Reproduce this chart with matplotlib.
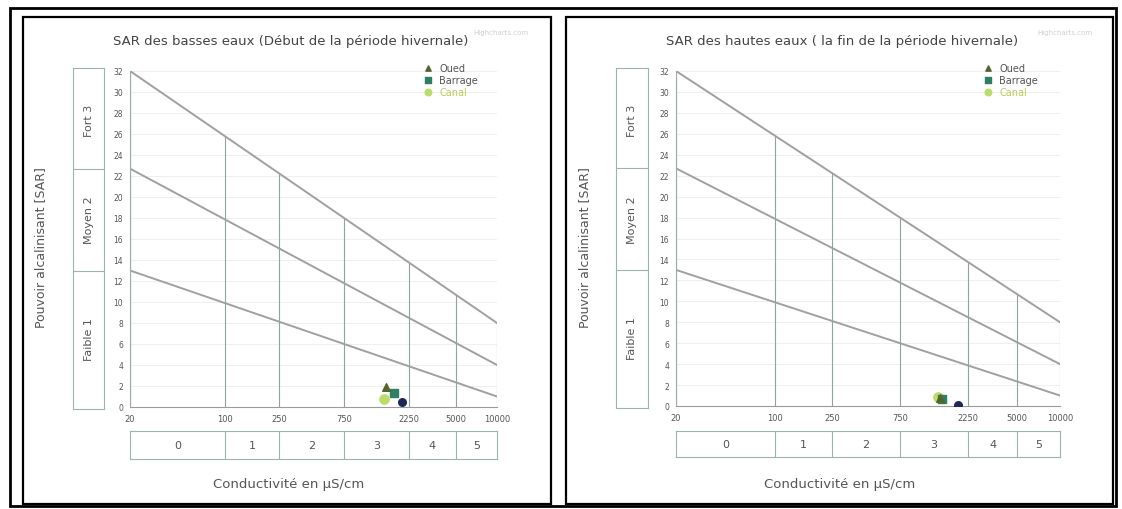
import numpy as np
import matplotlib
matplotlib.use('Agg')
import matplotlib.pyplot as plt
from matplotlib.patches import Rectangle

# axes values
ec_ticks = [20, 100, 250, 750, 2250, 5000, 10000]
ec_labels = ['20', '100', '250', '750', '2250', '5000', '10000']
sar_ticks = list(range(0, 33, 2))
cond_classes = ['0', '1', '2', '3', '4', '5']
sar_classes = ['Faible 1', 'Moyen 2', 'Fort 3']

# boundary lines (SAR at EC = 20 and EC = 10000)
line_ec = [20, 10000]
line_faible = [13.0, 1.0]
line_moyen = [22.7, 4.0]
line_fort = [32.0, 8.0]

# points, basses eaux
p1_oued_ec = [1530]
p1_oued_sar = [1.9]
p1_barrage_ec = [1750]
p1_barrage_sar = [1.3]
p1_canal_ec = [1470]
p1_canal_sar = [0.8]
p1_autre_ec = [2000]
p1_autre_sar = [0.45]

# points, hautes eaux
p2_oued_ec = [1440]
p2_oued_sar = [0.8]
p2_barrage_ec = [1470]
p2_barrage_sar = [0.65]
p2_canal_ec = [1380]
p2_canal_sar = [0.85]
p2_autre_ec = [1910]
p2_autre_sar = [0.12]

titles = ['SAR des basses eaux (Début de la période hivernale)',
          'SAR des hautes eaux ( la fin de la période hivernale)']

W, H = 1122, 510
fig = plt.figure(figsize=(W / 100, H / 100), dpi=100)


def frac(x0, y0, x1, y1):
    # pixel box (top-left origin) -> figure fraction [l, b, w, h]
    return [x0 / W, (H - y1) / H, (x1 - x0) / W, (y1 - y0) / H]


def rect(x0, y0, x1, y1, lw):
    l, b, w, h = frac(x0, y0, x1, y1)
    fig.add_artist(Rectangle((l, b), w, h, transform=fig.transFigure,
                             fill=False, ec='black', lw=lw))


rect(10, 9, 1116, 507, 2.0)
rect(23, 18, 551, 505, 1.6)
rect(566, 18, 1113, 505, 1.6)

col_oued = '#55652c'
col_barrage = '#2f7f62'
col_canal = '#bcdc6a'
col_autre = '#1f2658'
box_col = '#9db3b3'
txt_col = '#555555'

panels = [
    dict(plot=(130, 72, 497, 408), sarbox=(73, 104), condbox=(432, 460),
         title=(291, 42), mark=(528, 33), ylab=41, xlab=(289, 485), leg=(413, 59),
         pts=(p1_oued_ec, p1_oued_sar, p1_barrage_ec, p1_barrage_sar,
              p1_canal_ec, p1_canal_sar, p1_autre_ec, p1_autre_sar)),
    dict(plot=(676, 72, 1060, 407), sarbox=(616, 648), condbox=(432, 458),
         title=(842, 42), mark=(1092, 33), ylab=585, xlab=(840, 485), leg=(973, 59),
         pts=(p2_oued_ec, p2_oued_sar, p2_barrage_ec, p2_barrage_sar,
              p2_canal_ec, p2_canal_sar, p2_autre_ec, p2_autre_sar)),
]

for i, p in enumerate(panels):
    x0, y0, x1, y1 = p['plot']
    ax = fig.add_axes(frac(x0, y0, x1, y1))
    ax.set_xscale('log')
    ax.set_xlim(20, 10000)
    ax.set_ylim(0, 32)
    ax.minorticks_off()
    for s in ['top', 'right']:
        ax.spines[s].set_visible(False)
    ax.spines['left'].set_color('#9aaeb0')
    ax.spines['bottom'].set_color('#9a9a9a')
    ax.set_xticks(ec_ticks)
    ax.set_xticklabels(ec_labels)
    ax.set_yticks(sar_ticks)
    ax.tick_params(axis='both', length=0, colors=txt_col)
    ax.tick_params(axis='x', pad=5, labelsize=6)
    ax.tick_params(axis='y', pad=5, labelsize=5.5)
    ax.grid(axis='y', color='#ececec', lw=0.6)
    ax.set_axisbelow(True)

    # vertical class lines up to the upper boundary line
    top_at = np.interp(np.log10(ec_ticks), np.log10(line_ec), line_fort)
    ax.vlines(ec_ticks, 0, top_at, color='#8fa3a3', lw=0.8)
    for ys in [line_faible, line_moyen, line_fort]:
        ax.plot(line_ec, ys, color='#a0a0a0', lw=1.4)

    oe, osr, be, bs, ce, cs, ae, asr = p['pts']
    ax.scatter(ce, cs, marker='o', s=45, color=col_canal, label='Canal', zorder=3)
    ax.scatter(be, bs, marker='s', s=28, color=col_barrage, label='Barrage', zorder=4)
    ax.scatter(oe, osr, marker='^', s=30, color=col_oued, label='Oued', zorder=5)
    ax.scatter(ae, asr, marker='o', s=30, color=col_autre, zorder=5)

    h, l = ax.get_legend_handles_labels()
    order = [2, 1, 0]
    lx, ly = p['leg']
    leg = ax.legend([h[k] for k in order], [l[k] for k in order], loc='upper left',
                    bbox_to_anchor=(lx / W, 1 - ly / H), bbox_transform=fig.transFigure,
                    frameon=False, fontsize=7, handletextpad=0.2, labelspacing=0.2,
                    borderpad=0, markerscale=0.7)
    for t, c in zip(leg.get_texts(), [txt_col, txt_col, '#b9cc55']):
        t.set_color(c)

    # left SAR class box
    bx0, bx1 = p['sarbox']
    axs = fig.add_axes(frac(bx0, y0 - 3, bx1, y1 + 2))
    axs.set_ylim(-32 * 2 / 336, 32 + 32 * 3 / 336)
    axs.set_xlim(0, 1)
    axs.set_xticks([])
    axs.set_yticks([])
    for s in axs.spines.values():
        s.set_color(box_col)
        s.set_linewidth(0.8)
    bounds = [0, line_faible[0], line_moyen[0], line_fort[0]]
    axs.hlines(bounds[1:3], 0, 1, color=box_col, lw=0.8)
    for k, name in enumerate(sar_classes):
        axs.text(0.5, (bounds[k] + bounds[k + 1]) / 2, name, rotation=90,
                 ha='center', va='center', fontsize=8, color=txt_col)

    # bottom conductivity class box
    cy0, cy1 = p['condbox']
    axc = fig.add_axes(frac(x0, cy0, x1, cy1))
    axc.set_xscale('log')
    axc.set_xlim(20, 10000)
    axc.set_ylim(0, 1)
    axc.minorticks_off()
    axc.set_xticks([])
    axc.set_yticks([])
    for s in axc.spines.values():
        s.set_color(box_col)
        s.set_linewidth(0.8)
    axc.vlines(ec_ticks[1:-1], 0, 1, color=box_col, lw=0.8)
    mids = np.sqrt(np.array(ec_ticks[:-1]) * np.array(ec_ticks[1:]))
    for m, name in zip(mids, cond_classes):
        axc.text(m, 0.5, name, ha='center', va='center', fontsize=8, color=txt_col)

    tx, ty = p['title']
    fig.text(tx / W, 1 - ty / H, titles[i], ha='center', va='center',
             fontsize=9.5, color='#444444')
    mx, my = p['mark']
    fig.text(mx / W, 1 - my / H, 'Highcharts.com', ha='right', va='center',
             fontsize=5, color='#cfcfcf')
    fig.text(p['ylab'] / W, 1 - 248 / H, 'Pouvoir alcalinisant [SAR]', rotation=90,
             ha='center', va='center', fontsize=9, color=txt_col)
    xx, xy = p['xlab']
    fig.text(xx / W, 1 - xy / H, 'Conductivité en µS/cm', ha='center', va='center',
             fontsize=9.5, color=txt_col)

fig.savefig('out.png', dpi=100)
